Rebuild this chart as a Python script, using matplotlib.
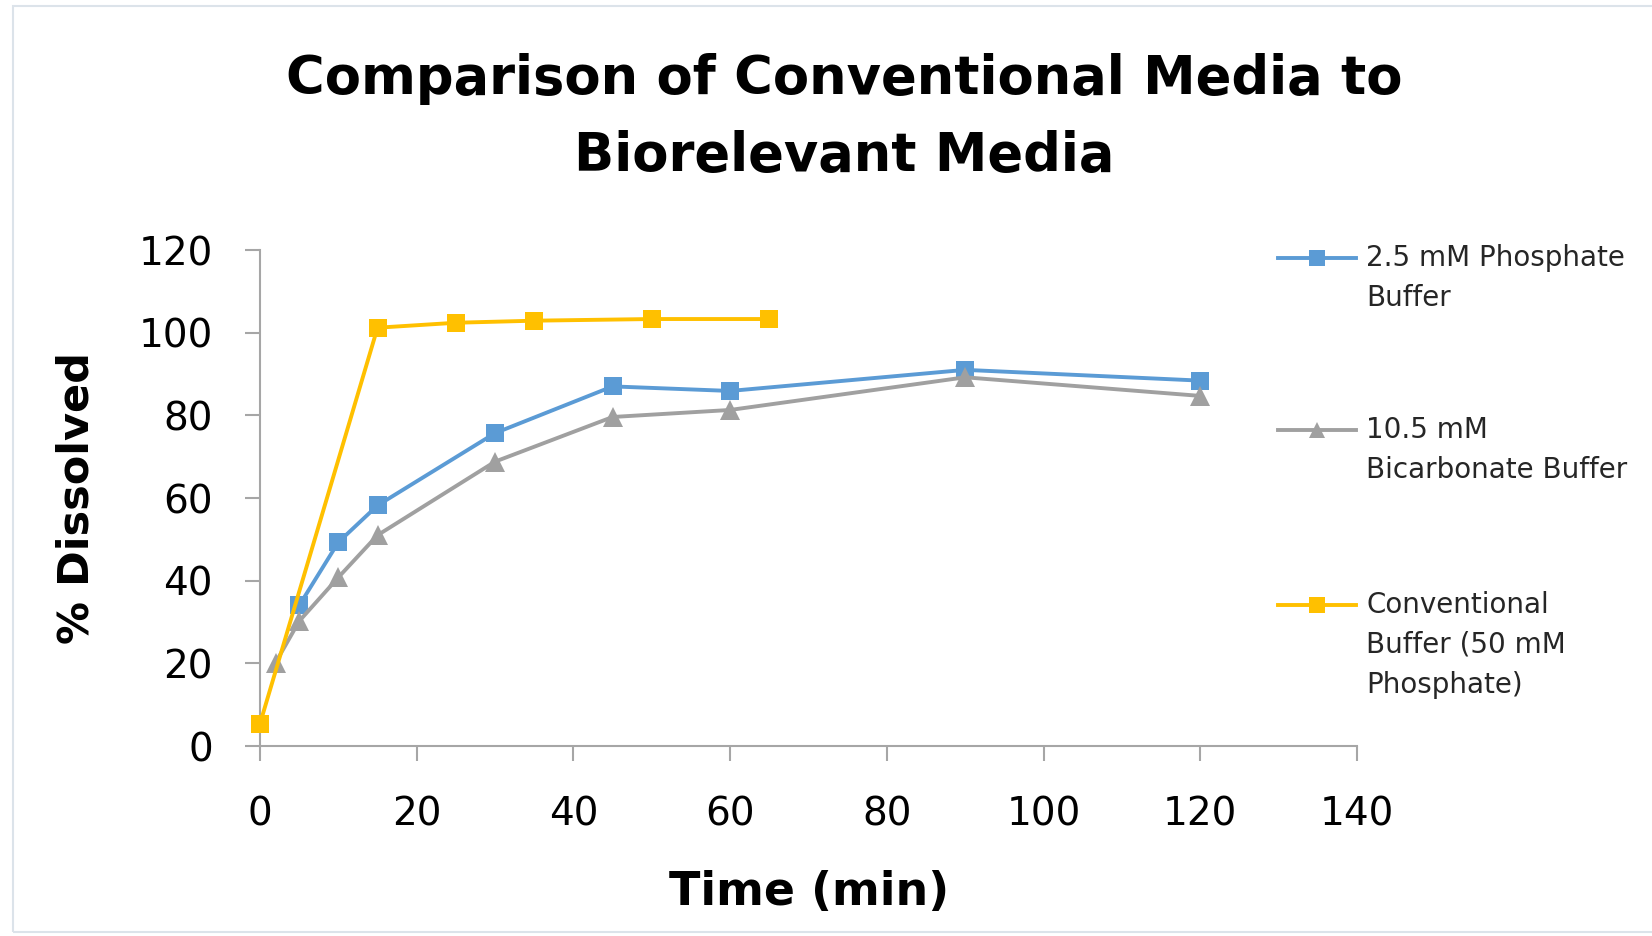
import matplotlib
matplotlib.use("Agg")
import matplotlib.pyplot as plt
from matplotlib.lines import Line2D
from matplotlib.patches import Rectangle

plt.rcParams['font.family'] = ['DejaVu Sans']

# ---- data ----
phos_t = [5, 10, 15, 30, 45, 60, 90, 120]
phos_y = [34, 49.3, 58.2, 75.7, 87.0, 85.9, 91.0, 88.4]

bicarb_t = [2, 5, 10, 15, 30, 45, 60, 90, 120]
bicarb_y = [20.2, 30.2, 40.8, 51.0, 68.8, 79.6, 81.3, 89.2, 84.7]

conv_t = [0, 15, 25, 35, 50, 65]
conv_y = [5.4, 101.2, 102.4, 102.9, 103.3, 103.3]

labels = ["2.5 mM Phosphate\nBuffer",
          "10.5 mM\nBicarbonate Buffer",
          "Conventional\nBuffer (50 mM\nPhosphate)"]
colors = ["#5B9BD5", "#A0A0A0", "#FFC000"]
markers = ["s", "^", "s"]

xticks = [0, 20, 40, 60, 80, 100, 120, 140]
yticks = [0, 20, 40, 60, 80, 100, 120]

W, H = 1652, 936
fig = plt.figure(figsize=(W / 100, H / 100), dpi=100)
ax = fig.add_axes([260 / W, 1 - 746 / H, 1097 / W, 496 / H])

series = [(phos_t, phos_y), (bicarb_t, bicarb_y), (conv_t, conv_y)]
for (t, y), c, m in zip(series, colors, markers):
    ax.plot(t, y, color=c, marker=m, markersize=13 if m == "s" else 14,
            linewidth=2.8, markeredgewidth=0, solid_joinstyle='round',
            clip_on=False, zorder=3)

ax.set_xlim(0, 140)
ax.set_ylim(0, 120)
ax.set_xticks(xticks)
ax.set_yticks(yticks)
ax.tick_params(axis='both', labelsize=28, length=11, width=1.5,
               color="#A6A6A6", labelcolor="#000000", pad=23)
ax.tick_params(axis='x', pad=25)
for s in ['top', 'right']:
    ax.spines[s].set_visible(False)
for s in ['left', 'bottom']:
    ax.spines[s].set_color("#A6A6A6")
    ax.spines[s].set_linewidth(1.5)

ax.set_xlabel("Time (min)", fontsize=33, fontweight='bold')
ax.xaxis.label.set_va('center')
ax.xaxis.set_label_coords((809 - 260) / 1097, (746 - 892) / 496)
ax.set_ylabel("% Dissolved", fontsize=31, fontweight='bold')
ax.yaxis.label.set_va('center')
ax.yaxis.set_label_coords((77 - 260) / 1097, 0.5)

fig.text(844 / W, 1 - 79 / H, "Comparison of Conventional Media to",
         ha='center', va='center', fontsize=38, fontweight='bold')
fig.text(844 / W, 1 - 156 / H, "Biorelevant Media",
         ha='center', va='center', fontsize=38, fontweight='bold')

# legend (manual so each handle lines up with the first text line)
leg_y = [258, 430, 605]
for lab, c, m, yy in zip(labels, colors, markers, leg_y):
    fy = 1 - yy / H
    fig.add_artist(Line2D([1278 / W, 1356 / W], [fy, fy], color=c, linewidth=2.8,
                          transform=fig.transFigure))
    fig.add_artist(Line2D([1317 / W], [fy], color=c, marker=m, markersize=11,
                          markeredgewidth=0, transform=fig.transFigure))
    for k, line in enumerate(lab.split("\n")):
        fig.text(1366 / W, 1 - (yy + 40 * k) / H, line, ha='left', va='center',
                 fontsize=20, color="#262626")

fig.add_artist(Rectangle((13 / W, 1 - 932 / H), 1.0, (932 - 6) / H,
                         transform=fig.transFigure, fill=False,
                         edgecolor="#DCE3EA", linewidth=1.5))

fig.savefig("out.png", dpi=100)
